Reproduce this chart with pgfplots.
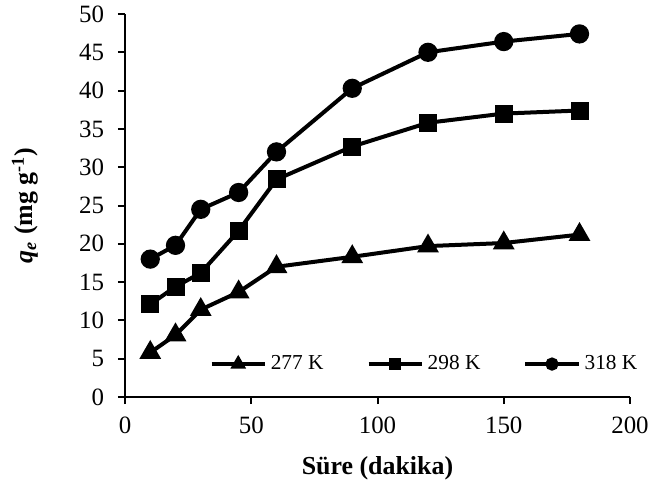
\documentclass[border=0pt]{standalone}
\usepackage{fontspec}
\setmainfont{Liberation Serif}
\usepackage{pgfplots}
\pgfplotsset{compat=1.18}

\begin{document}
\begin{tikzpicture}
  \useasboundingbox (-62.5bp,-44.5bp) rectangle (271bp,198.5bp);
  \begin{axis}[
      scale only axis,
      width=252.5bp, height=191.5bp,
      xmin=0, xmax=200, ymin=0, ymax=50,
      xtick={0,50,...,200},
      ytick={0,5,...,50},
      axis x line=bottom, axis y line=left,
      axis line style={-, line width=1bp},
      tick align=outside,
      major tick length=3.5bp,
      tick style={line width=1bp, black},
      /pgf/number format/assume math mode=true,
      tick label style={font=\fontsize{12.5}{15}\selectfont},
      yticklabel style={xshift=-3.5bp},
      xticklabel style={yshift=-3bp},
      xlabel={\textbf{Süre (dakika)}},
      ylabel={\textbf{\textit{q}\textsubscript{\textit{e}} (mg g\textsuperscript{-1})}},
      label style={font=\fontsize{13}{15}\selectfont},
      xlabel style={at={(axis description cs:0.5,-0.185)}, anchor=center},
      ylabel style={at={(axis description cs:-0.198,0.5)}, anchor=center},
      every axis plot/.append style={line width=2bp, black},
      legend columns=3,
      legend style={draw=none, fill=none, at={(axis cs:31,4.3)}, anchor=west,
        font=\fontsize{10.7}{13}\selectfont,
        /tikz/every even column/.append style={column sep=19.5bp}},
      legend image code/.code={%
        \draw[#1, mark options={scale=0.6}, mark repeat=2, mark phase=2]
          plot coordinates {(0bp,0bp) (13.3bp,0bp) (26.6bp,0bp)};},
    ]
    \addplot[mark=triangle*, mark size=4.3bp] coordinates {
      (10,5.8) (20,8.1) (30,11.4) (45,13.7) (60,17.0) (90,18.3) (120,19.7) (150,20.1) (180,21.2)};
    \addplot[mark=square*, mark size=3.5bp] coordinates {
      (10,12.1) (20,14.4) (30,16.2) (45,21.7) (60,28.4) (90,32.7) (120,35.8) (150,37.0) (180,37.4)};
    \addplot[mark=*, mark size=3.8bp] coordinates {
      (10,18.0) (20,19.8) (30,24.5) (45,26.7) (60,32.0) (90,40.3) (120,45.0) (150,46.4) (180,47.4)};
    \legend{277 K, 298 K, 318 K}
  \end{axis}
\end{tikzpicture}
\end{document}
